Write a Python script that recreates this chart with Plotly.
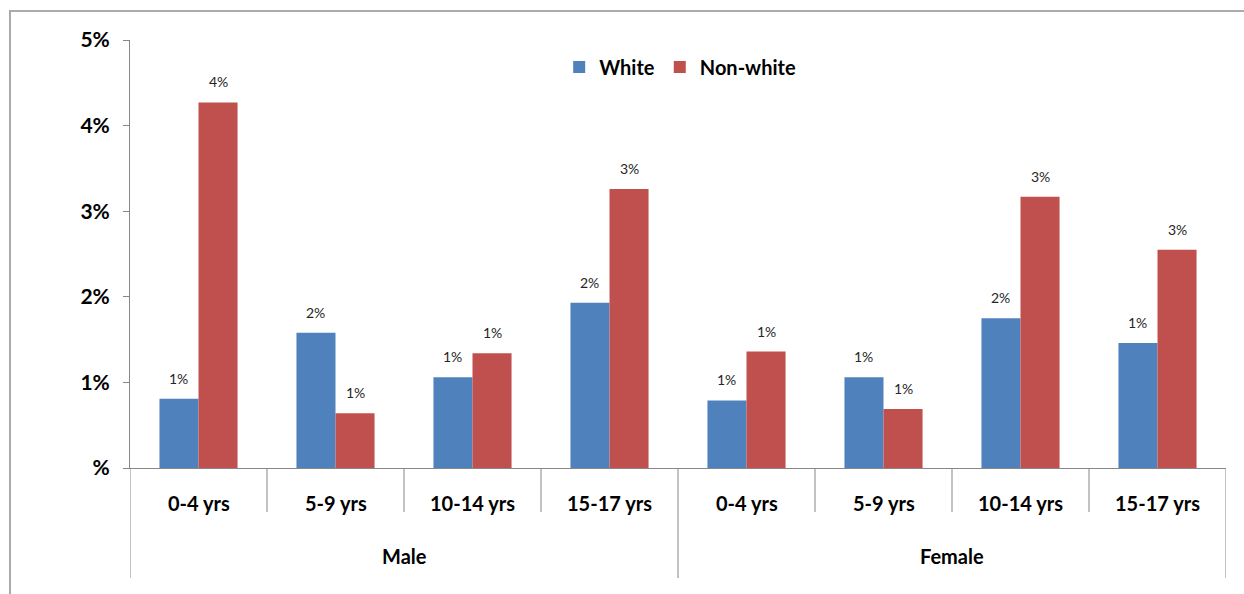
import plotly.graph_objects as go

# Age bands within each sex
sex_groups = ["Male", "Female"]
age_bands = ["0-4 yrs", "5-9 yrs", "10-14 yrs", "15-17 yrs"] * 2

# Percentages (in % units)
white = [0.81, 1.58, 1.06, 1.93, 0.79, 1.06, 1.75, 1.46]
non_white = [4.27, 0.64, 1.34, 3.26, 1.36, 0.69, 3.17, 2.55]

y_ticks = [0, 1, 2, 3, 4, 5]
y_tick_text = ["%", "1%", "2%", "3%", "4%", "5%"]

FONT = "Lato"
BLUE = "#4F81BD"
RED = "#C0504D"
AXIS = "#878787"

W, H = 1244, 594
ml, mr, mt, mb = 130, 18, 40, 126
pw, ph = W - ml - mr, H - mt - mb

def py(px):
    """Pixel row -> paper y."""
    return (H - mb - px) / ph

pos = list(range(len(age_bands)))
bar_w = 0.285  # in category units

fig = go.Figure()
series = [("White", white, BLUE, -0.5), ("Non-white", non_white, RED, 0.5)]
for name, vals, color, side in series:
    fig.add_trace(go.Bar(
        name=name,
        x=[p + side * bar_w for p in pos],
        y=vals,
        width=bar_w,
        marker=dict(color=color, line=dict(width=0)),
        cliponaxis=False,
    ))

annotations = []
# value labels above bars
for name, vals, color, side in series:
    for p, v in zip(pos, vals):
        annotations.append(dict(
            x=p + side * bar_w, y=v, xref="x", yref="y",
            text=f"{round(v):d}%", showarrow=False,
            yanchor="bottom", yshift=10,
            font=dict(family=FONT, size=14, color="#262626"),
        ))
# inner (age band) labels
for p, lab in zip(pos, age_bands):
    annotations.append(dict(
        x=p, y=py(503), xref="x", yref="paper", text=lab, showarrow=False,
        yanchor="middle",
        font=dict(family=FONT, size=20, color="#000000", weight="bold"),
    ))
# outer (sex) labels
n_inner = len(age_bands) // len(sex_groups)
for i, g in enumerate(sex_groups):
    centre = i * n_inner + (n_inner - 1) / 2
    annotations.append(dict(
        x=centre, y=py(556), xref="x", yref="paper", text=g, showarrow=False,
        yanchor="middle",
        font=dict(family=FONT, size=20, color="#000000", weight="bold"),
    ))

shapes = []
# category boundary ticks and group dividers
for k in range(len(age_bands) + 1):
    xb = k - 0.5
    bottom = py(578) if k % n_inner == 0 else py(512)
    shapes.append(dict(
        type="line", xref="x", yref="paper",
        x0=xb, x1=xb, y0=0, y1=bottom,
        line=dict(color=AXIS, width=1),
    ))
# outer chart border
shapes.append(dict(
    type="rect", xref="paper", yref="paper",
    x0=(10 - ml) / pw, x1=(1262 - ml) / pw, y0=py(612), y1=py(11),
    line=dict(color="#ABABAB", width=2),
    fillcolor="rgba(0,0,0,0)", layer="below",
))

fig.update_layout(
    width=W, height=H,
    margin=dict(l=ml, r=mr, t=mt, b=mb),
    paper_bgcolor="white",
    plot_bgcolor="white",
    barmode="overlay",
    font=dict(family=FONT, color="#000000"),
    legend=dict(
        orientation="h",
        x=0.502, xanchor="center",
        y=0.937, yanchor="middle",
        font=dict(family=FONT, size=20, color="#000000", weight="bold"),
        bgcolor="rgba(0,0,0,0)",
        itemwidth=30,
    ),
    showlegend=True,
    annotations=annotations,
    shapes=shapes,
)

fig.update_xaxes(
    range=[-0.5, len(age_bands) - 0.5],
    showline=True, linecolor=AXIS, linewidth=1,
    showticklabels=False, ticks="",
    showgrid=False, zeroline=False,
)
fig.update_yaxes(
    range=[0, 5],
    tickvals=y_ticks, ticktext=y_tick_text,
    showline=True, linecolor=AXIS, linewidth=1,
    ticks="outside", ticklen=6, tickcolor=AXIS,
    ticklabelstandoff=9,
    tickfont=dict(family=FONT, size=21, color="#000000", weight="bold"),
    showgrid=False, zeroline=False,
)

fig.write_html("out.html")
